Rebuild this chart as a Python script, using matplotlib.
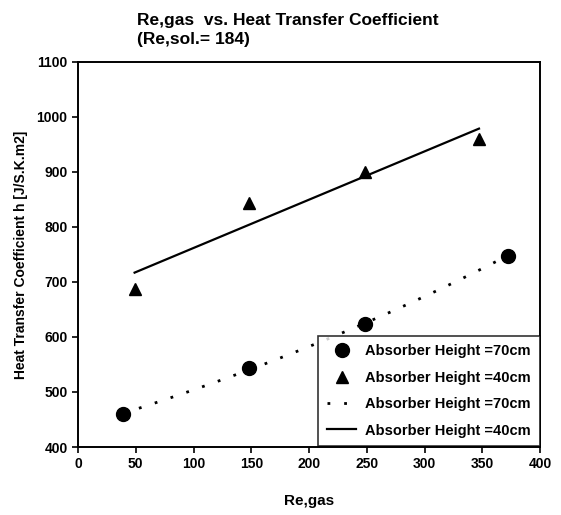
import matplotlib.pyplot as plt
import numpy as np

plt.rcParams['font.family'] = ['Liberation Sans', 'DejaVu Sans']

re_gas_70 = [39, 148, 248, 372]
h_70 = [460, 543, 623, 748]
re_gas_40 = [49, 148, 248, 347]
h_40 = [688, 843, 900, 960]

x_ticks = [0, 50, 100, 150, 200, 250, 300, 350, 400]
y_ticks = [400, 500, 600, 700, 800, 900, 1000, 1100]

fig = plt.figure(figsize=(5.61, 5.15), dpi=100)
ax = fig.add_axes([0.139, 0.132, 0.824, 0.748])

# trend lines (exponential for 70cm, linear for 40cm)
b, a = np.polyfit(re_gas_70, np.log(h_70), 1)
x70 = np.linspace(min(re_gas_70), max(re_gas_70), 200)
m, c = np.polyfit(re_gas_40, h_40, 1)
x40 = np.array([min(re_gas_40), max(re_gas_40)])

ax.plot(re_gas_70, h_70, 'o', color='black', markersize=10, label='Absorber Height =70cm')
ax.plot(re_gas_40, h_40, '^', color='black', markersize=9, label='Absorber Height =40cm')
ax.plot(x70, np.exp(a + b * x70), color='black', linestyle=(0, (1, 5)), linewidth=2,
        label='Absorber Height =70cm')
ax.plot(x40, m * x40 + c, color='black', linewidth=1.6, label='Absorber Height =40cm')

ax.set_xlim(0, 400)
ax.set_ylim(400, 1100)
ax.set_xticks(x_ticks)
ax.set_yticks(y_ticks)
ax.tick_params(labelsize=10, direction='out', length=4, width=1.2)
for lbl in ax.get_xticklabels() + ax.get_yticklabels():
    lbl.set_fontweight('bold')
for s in ax.spines.values():
    s.set_linewidth(1.4)

ax.set_xlabel('Re,gas', fontsize=11, fontweight='bold', labelpad=16)
ax.set_ylabel('Heat Transfer Coefficient h [J/S.K.m2]', fontsize=10, fontweight='bold', labelpad=6)
fig.text(0.244, 0.942, 'Re,gas  vs. Heat Transfer Coefficient\n(Re,sol.= 184)', fontsize=12.5,
         fontweight='bold', ha='left', va='center', linespacing=1.35)

leg = ax.legend(loc='lower right', fontsize=10.5, frameon=True, fancybox=False,
                edgecolor='black', borderaxespad=0.05, handlelength=2.0, handletextpad=0.6,
                labelspacing=0.85, borderpad=0.6)
leg.get_frame().set_linewidth(1.2)
for t in leg.get_texts():
    t.set_fontweight('bold')

fig.savefig('out.png', dpi=100)
